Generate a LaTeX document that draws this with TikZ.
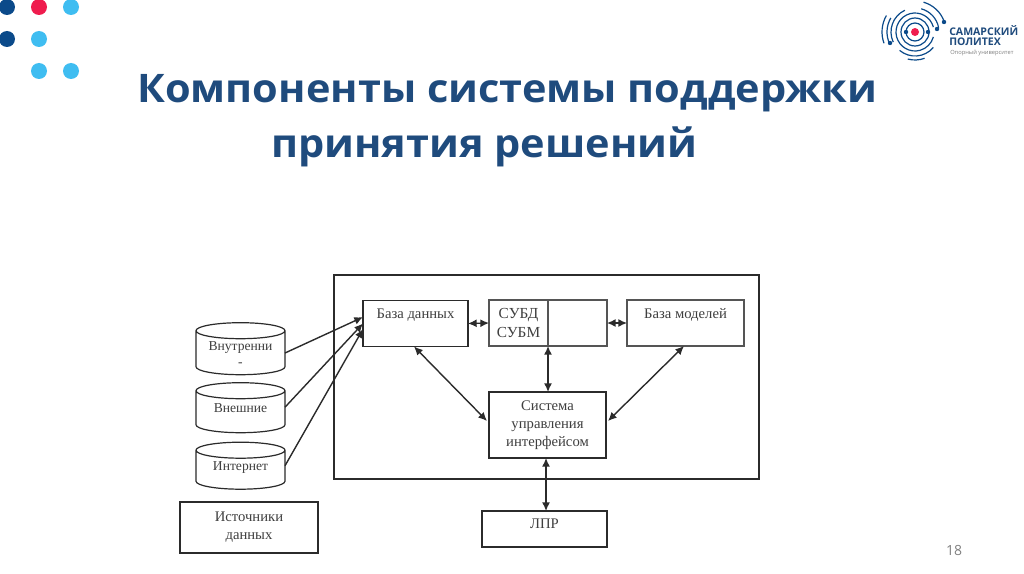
\documentclass[tikz,border=0pt]{standalone}
\usepackage{fontspec}
\setmainfont{Liberation Serif}
\newfontfamily\titlefont{Open Sans}
\newfontfamily\titlewide[FakeStretch=1.055]{Open Sans}
\usetikzlibrary{shapes.geometric,arrows.meta,calc}
\definecolor{titleblue}{HTML}{1F4B7D}
\definecolor{navy}{HTML}{0B4A8A}
\definecolor{dotred}{HTML}{EF1C4E}
\definecolor{dotsky}{HTML}{3FBDF1}
\definecolor{ink}{HTML}{3F3F3F}
\definecolor{line}{HTML}{2B2B2B}
\definecolor{softline}{HTML}{555555}
\newcommand{\cyltext}[2]{\raisebox{#1}[0pt][0pt]{\parbox{60pt}{\centering #2}}}
\tikzset{
  x=0.75pt,y=-0.75pt,
  dot/.style={circle,inner sep=0pt,minimum size=12pt},
  box/.style={draw=line,line width=0.9pt,inner sep=0pt,outer sep=0pt,text=ink,font=\fontsize{11}{13.6}\selectfont,align=center},
  softbox/.style={box,draw=softline,line width=0.8pt},
  topbox/.style={softbox,text height=#1,text depth=34.5pt-#1},
  store/.style={cylinder,shape border rotate=90,draw=line,line width=0.9pt,aspect=0.2,inner sep=0pt,outer sep=0pt,minimum width=66.75pt,text=ink,font=\fontsize{10.2}{12}\selectfont},
  link/.style={{Latex[length=6.5pt,width=6pt]}-{Latex[length=6.5pt,width=6pt]},line width=1.05pt,draw=line},
  feed/.style={-{Latex[length=6.5pt,width=6pt]},line width=1.05pt,draw=line},
  slidetitle/.style={anchor=base west,inner sep=0pt,text=titleblue,font=\titlewide\bfseries\fontsize{29.5}{34}\selectfont},
  ring/.style={draw=navy,line width=0.9pt},
}
\begin{document}
\begin{tikzpicture}
\clip (0,0) rectangle (1024,574);
\fill[white] (0,0) rectangle (1024,574);
% decorative dots
\node[dot,fill=navy] (d1) at (7,7) {};
\node[dot,fill=dotred] (d2) at (39,7) {};
\node[dot,fill=dotsky] (d3) at (71,7) {};
\node[dot,fill=navy] (d4) at (7,39) {};
\node[dot,fill=dotsky] (d5) at (39,39) {};
\node[dot,fill=dotsky] (d6) at (39,71) {};
\node[dot,fill=dotsky] (d7) at (71,71) {};
% title
\node[slidetitle] (t1) at (137,103) {Компоненты системы поддержки};
\node[slidetitle] (t2) at (271,158) {принятия решений};
% logo
\coordinate (logo) at (915,32);
\begin{scope}[shift={(logo)},x=0.75pt,y=0.75pt]
  \draw[ring] (0,0) circle[radius=9];
  \draw[ring] (0,0) circle[radius=14];
  \draw[ring] (15:19) arc[start angle=15,end angle=345,radius=19];
  \draw[ring] (75:24) arc[start angle=75,end angle=10,radius=24];
  \draw[ring] (115:24) arc[start angle=115,end angle=205,radius=24];
  \draw[ring] (-40:24) arc[start angle=-40,end angle=-130,radius=24];
  \draw[ring] (150:28) arc[start angle=150,end angle=205,radius=28];
  \draw[ring] (-105:28) arc[start angle=-105,end angle=-70,radius=28];
  \draw[ring] (20:31) arc[start angle=20,end angle=74,radius=31];
  \draw[ring] (150:33) arc[start angle=150,end angle=200,radius=33];
  \fill[dotred] (0,0) circle[radius=4];
  \fill[navy] (-9,0) circle[radius=2.2] (13,0) circle[radius=2.2] (22,3) circle[radius=2.2] (29,10) circle[radius=2.2] (-25,-11) circle[radius=2.2];
\end{scope}
\node[anchor=base west,inner sep=0pt,text=titleblue,font=\titlefont\bfseries\fontsize{7.9}{9}\selectfont] (l1) at (949,36) {САМАРСКИЙ};
\node[anchor=base west,inner sep=0pt,text=titleblue,font=\titlefont\bfseries\fontsize{7.9}{9}\selectfont] (l2) at (949,46) {ПОЛИТЕХ};
\node[anchor=base west,inner sep=0pt,text=gray,font=\titlefont\fontsize{4.3}{5}\selectfont] (l3) at (950,55) {Опорный университет};
% outer system frame
\node[draw=line,line width=1.3pt,inner sep=0pt,minimum width=318.75pt,minimum height=153pt] (sys) at (546.5,377) {};
% inner boxes
\node[topbox=13.5pt,draw=line,line width=1pt,minimum width=78.75pt] (db) at (415.5,323.5) {База данных};
\node[softbox,minimum width=44.25pt,minimum height=34.5pt,font=\fontsize{11.5}{13.6}\selectfont] (dbmsL) at (518.5,323) {СУБД\\СУБМ};
\node[softbox,minimum width=44.25pt,minimum height=34.5pt] (dbmsR) at (577.5,323) {};
\node[topbox=13.5pt,minimum width=87.75pt] (models) at (685.5,323) {База моделей};
\node[box,minimum width=87.75pt,minimum height=49.5pt,line width=1.1pt] (ui) at (547.5,425) {Система\\управления\\интерфейсом};
\node[box,minimum width=93.75pt,minimum height=27pt,text height=13.3pt,text depth=13.7pt] (dm) at (544.5,529) {ЛПР};
\node[box,minimum width=103.5pt,minimum height=38.25pt,line width=1.3pt] (src) at (249,527.5) {Источники\\данных};
% data stores
\node[store,minimum height=39pt] (c1) at (240.5,353) {\cyltext{-3.6pt}{Внутренни\\-}};
\node[store,minimum height=37.5pt] (c2) at (240.5,412) {\cyltext{0.5pt}{Внешние}};
\node[store,minimum height=35.25pt] (c3) at (240.5,470) {\cyltext{-0.5pt}{Интернет}};
% connectors
\draw[feed] ([yshift=0pt]c1.east) -- ([yshift=4.8pt]db.west);
\draw[feed] ([yshift=3.6pt]c2.east) -- (db.west);
\draw[feed] ([yshift=3.2pt]c3.east) -- ([yshift=-4.2pt]db.west);
\draw[link] (db.east) -- (dbmsL.west);
\draw[link] (dbmsR.east) -- (models.west);
\draw[link] (dbmsL.south east) -- (dbmsL.south east |- ui.north);
\draw[link] ($(db.south)+(-1.5,0)$) -- ($(ui.west)+(-2,-4)$);
\draw[link] ($(models.south)+(-1.5,0)$) -- ($(ui.east)+(2,-4)$);
\draw[link] ($(ui.south)+(-1.5,0)$) -- ($(dm.north)+(1.5,0)$);
% slide number
\node[inner sep=0pt,text=gray,font=\titlefont\fontsize{10.5}{12}\selectfont] (num) at (954,550) {18};
\end{tikzpicture}
\end{document}
